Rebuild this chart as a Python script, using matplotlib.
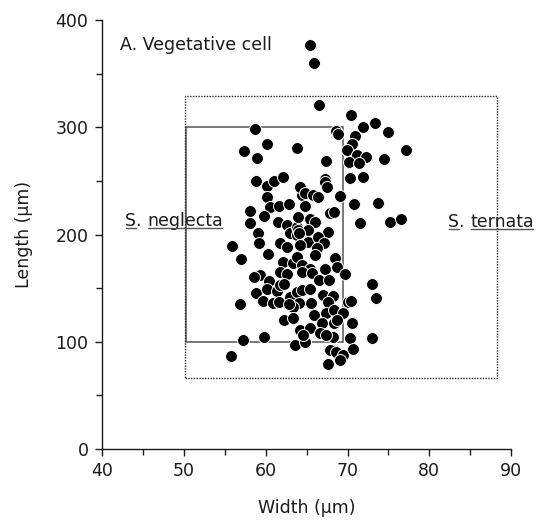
import matplotlib
matplotlib.use("Agg")
import matplotlib.pyplot as plt
from matplotlib.lines import Line2D
from matplotlib.patches import Rectangle
from matplotlib.ticker import MultipleLocator
import numpy as np

width = [
    65.4, 65.9, 66.5, 70.4, 68.6, 68.8, 71.9, 73.4, 75.0, 70.9,
    70.6, 69.9, 71.2, 72.3, 70.2, 71.4, 74.5, 77.2, 67.4, 67.2,
    70.3, 71.9, 58.7, 60.2, 57.3, 58.9, 63.8, 58.8, 60.2, 61.0,
    62.1, 60.2, 60.5, 61.6, 62.9, 58.1, 59.8, 58.1, 61.5, 62.6,
    63.0, 63.8, 59.1, 55.9, 59.2, 60.3, 61.8, 62.6, 57.0, 59.3,
    62.1, 63.3, 61.8, 62.6, 64.0, 64.4, 64.2, 64.8, 67.2, 67.5,
    65.8, 66.4, 69.1, 70.8, 73.7, 64.8, 67.9, 68.4, 65.4, 66.0,
    71.5, 75.2, 76.6, 64.0, 65.2, 67.6, 63.8, 65.2, 66.4, 67.1,
    66.3, 66.0, 68.5, 63.8, 64.4, 65.4, 67.2, 68.7, 69.7, 64.4,
    58.6, 60.4, 58.8, 60.2, 61.4, 61.8, 59.7, 60.9, 61.6, 63.0,
    63.8, 64.1, 63.3, 56.9, 62.2, 63.3, 64.2, 57.2, 59.8, 63.6,
    55.8, 65.7, 66.5, 67.7, 73.0, 73.5, 64.4, 65.4, 67.0, 68.2,
    65.5, 67.6, 70.1, 70.4, 65.9, 67.4, 68.4, 69.5, 66.9, 68.4,
    68.7, 70.6, 65.4, 66.6, 68.2, 70.3, 73.0, 64.8, 67.9, 68.6,
    69.5, 70.7, 69.1, 67.6, 64.1, 62.2, 62.9, 64.6, 67.4, 64.2,
]
length = [
    376.7, 359.9, 321.2, 311.4, 296.5, 293.7, 300.2, 304.0, 295.6, 291.8,
    284.4, 278.8, 274.1, 272.3, 267.6, 266.7, 270.4, 278.8, 268.5, 251.7,
    252.7, 253.6, 298.4, 284.4, 277.9, 271.3, 280.7, 249.9, 245.2, 249.9,
    253.6, 235.0, 225.6, 226.6, 228.4, 221.9, 217.2, 210.7, 211.7, 208.9,
    201.4, 207.0, 201.4, 189.3, 192.1, 181.8, 192.1, 188.3, 177.2, 162.2,
    174.4, 173.4, 165.0, 163.2, 216.3, 236.8, 244.3, 238.7, 249.0, 244.3,
    236.8, 235.0, 235.9, 228.4, 229.4, 226.6, 220.0, 221.0, 214.5, 211.7,
    210.7, 211.7, 214.5, 204.2, 204.2, 202.3, 199.5, 193.0, 197.7, 192.1,
    187.4, 180.9, 178.1, 179.0, 171.6, 167.8, 167.8, 169.7, 163.2, 165.0,
    160.4, 156.6, 145.5, 149.2, 147.3, 152.9, 138.0, 136.1, 137.1, 141.7,
    146.4, 136.1, 132.4, 135.2, 120.3, 122.1, 111.0, 101.6, 104.4, 97.0,
    86.7, 164.1, 157.6, 157.6, 153.8, 140.8, 148.3, 149.2, 143.6, 142.7,
    136.1, 137.1, 137.1, 138.0, 124.9, 126.8, 129.6, 126.8, 117.5, 117.5,
    120.3, 117.5, 112.8, 108.2, 104.4, 103.5, 103.5, 99.8, 92.3, 90.4,
    87.6, 93.2, 83.0, 79.3, 201.4, 153.8, 135.2, 106.3, 106.3, 190.5,
]

# published ranges (width min/max, length min/max)
neglecta_range = (50.2, 69.4, 100, 300)
ternata_range = (50.1, 88.3, 66, 329)

fig = plt.figure(figsize=(5.53, 5.21), dpi=100)
ax = fig.add_axes([0.185, 0.138, 0.739, 0.8236])

ink = "#1a1a1a"
fs = 12.5

w0, w1, l0, l1 = neglecta_range
ax.add_patch(Rectangle((w0, l0), w1 - w0, l1 - l0, fill=False,
                       edgecolor="#555555", linewidth=1.1, zorder=1))
w0, w1, l0, l1 = ternata_range
ax.add_patch(Rectangle((w0, l0), w1 - w0, l1 - l0, fill=False,
                       edgecolor="#222222", linewidth=1.0,
                       linestyle=(0, (1, 1)), zorder=1))

ax.scatter(width, length, s=74, c="black", edgecolors="white",
           linewidths=0.7, zorder=3)

ax.set_xlim(40, 90)
ax.set_ylim(0, 400)
ax.xaxis.set_major_locator(MultipleLocator(10))
ax.xaxis.set_minor_locator(MultipleLocator(5))
ax.yaxis.set_major_locator(MultipleLocator(100))
ax.yaxis.set_minor_locator(MultipleLocator(50))
for s in ("top", "right"):
    ax.spines[s].set_visible(False)
for s in ("left", "bottom"):
    ax.spines[s].set_linewidth(1.0)
    ax.spines[s].set_color(ink)
ax.tick_params(which="major", direction="out", length=5, width=1.0,
               colors=ink, labelsize=fs)
ax.tick_params(which="minor", direction="out", length=4, width=1.0, colors=ink)
ax.tick_params(axis="x", pad=4)
ax.tick_params(axis="y", pad=5)

ax.set_xlabel("Width (μm)", fontsize=fs, color=ink, labelpad=14)
ax.set_ylabel("Length (μm)", fontsize=fs, color=ink, labelpad=16)

ax.text(0.043, 0.942, "A. Vegetative cell", transform=ax.transAxes,
        fontsize=fs, color=ink, ha="left", va="center")


def species_label(x, y, name):
    t1 = ax.text(x, y, "S", transform=ax.transAxes, fontsize=fs,
                 color=ink, ha="left", va="center")
    t2 = ax.annotate(". ", xy=(1, 0), xycoords=t1, fontsize=fs,
                     color=ink, ha="left", va="bottom")
    t3 = ax.annotate(name, xy=(1, 0), xycoords=t2, fontsize=fs,
                     color=ink, ha="left", va="bottom")
    return [t1, t3]


underlined = species_label(0.056, 0.531, "neglecta")
underlined += species_label(0.846, 0.529, "ternata")

fig.canvas.draw()
renderer = fig.canvas.get_renderer()
inv = fig.transFigure.inverted()
for t in underlined:
    bb = t.get_window_extent(renderer)
    yy = bb.y0 + 2.0
    (x0, y0), (x1, _) = inv.transform([(bb.x0 + 0.5, yy), (bb.x1 - 0.5, yy)])
    fig.add_artist(Line2D([x0, x1], [y0, y0], transform=fig.transFigure,
                          color="#555555", linewidth=1.0))

fig.savefig("out.png", dpi=100)
